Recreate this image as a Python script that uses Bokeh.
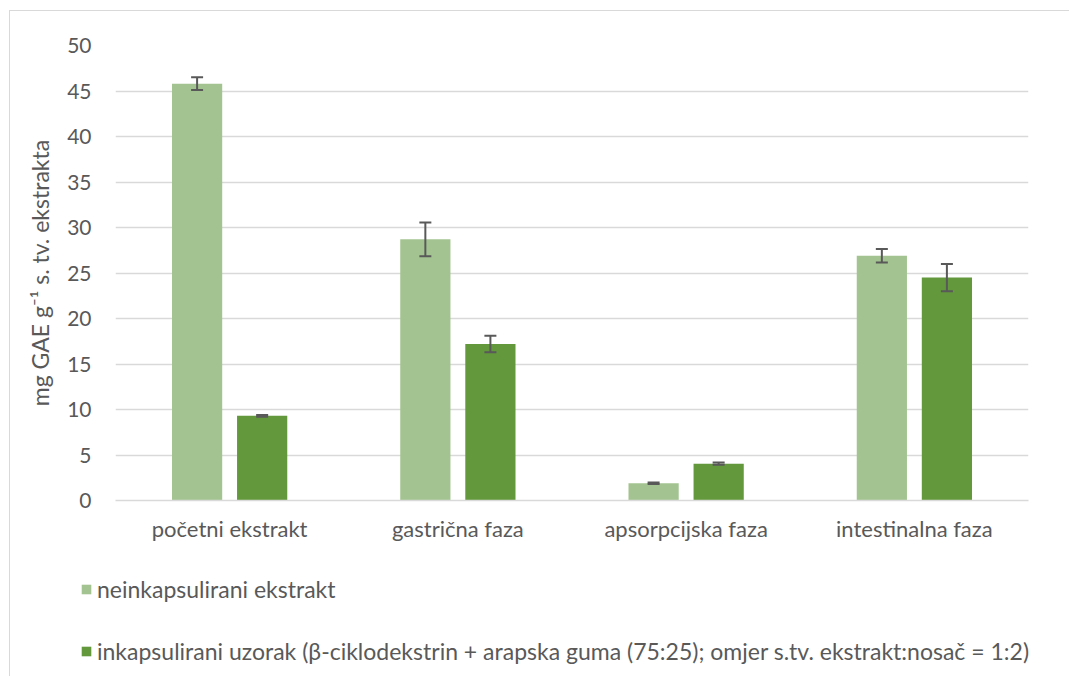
from bokeh.plotting import figure
from bokeh.models import (ColumnDataSource, Whisker, TeeHead, Legend, LegendItem,
                          FactorRange, Range1d, FixedTicker)
from bokeh.layouts import column
from bokeh.transform import dodge
from bokeh.embed import file_html
from bokeh.resources import INLINE

categories = ["početni ekstrakt", "gastrična faza", "apsorpcijska faza", "intestinalna faza"]
neinkapsulirani = [45.8, 28.7, 1.9, 26.9]
neinkapsulirani_err = [0.7, 1.85, 0.08, 0.75]
inkapsulirani = [9.3, 17.2, 4.05, 24.5]
inkapsulirani_err = [0.1, 0.9, 0.12, 1.5]
series_names = ["neinkapsulirani ekstrakt",
                "inkapsulirani uzorak (β-ciklodekstrin + arapska guma (75:25); omjer s.tv. ekstrakt:nosač = 1:2)"]
y_ticks = [0, 5, 10, 15, 20, 25, 30, 35, 40, 45, 50]
y_label = "mg GAE g⁻¹ s. tv. ekstrakta"

LIGHT = "#A3C490"
DARK = "#63983D"
TEXT = "#595959"
GRID = "#D9D9D9"
FONT = "Lato"
W_TOTAL = 1069

src = ColumnDataSource(dict(
    cat=categories,
    v1=neinkapsulirani,
    u1=[v + e for v, e in zip(neinkapsulirani, neinkapsulirani_err)],
    l1=[v - e for v, e in zip(neinkapsulirani, neinkapsulirani_err)],
    v2=inkapsulirani,
    u2=[v + e for v, e in zip(inkapsulirani, inkapsulirani_err)],
    l2=[v - e for v, e in zip(inkapsulirani, inkapsulirani_err)],
))

OFF = 0.1425
W = 0.22

# ---------------- main chart ----------------
p = figure(x_range=FactorRange(*categories), y_range=Range1d(0, 50),
           width=W_TOTAL, height=560, output_backend="svg", toolbar_location=None,
           min_border_left=115, min_border_right=41, min_border_top=45, min_border_bottom=60)
p.frame_align = False
p.outline_line_color = None
p.border_fill_color = None
p.background_fill_color = "white"
p.styles = {
    "background-color": "white",
    "background-image": "linear-gradient(#D9D9D9,#D9D9D9), linear-gradient(#D9D9D9,#D9D9D9)",
    "background-position": "9px 10px, 9px 10px",
    "background-size": "1px 100%, 100% 1px",
    "background-repeat": "no-repeat",
}

r1 = p.vbar(x=dodge("cat", -OFF, range=p.x_range), top="v1", width=W, source=src,
            fill_color=LIGHT, line_color=None)
r2 = p.vbar(x=dodge("cat", OFF, range=p.x_range), top="v2", width=W, source=src,
            fill_color=DARK, line_color=None)

for off, u, l in [(-OFF, "u1", "l1"), (OFF, "u2", "l2")]:
    w = Whisker(base=dodge("cat", off, range=p.x_range), upper=u, lower=l, source=src,
                line_color=TEXT, line_width=2, level="overlay",
                upper_head=TeeHead(size=12, line_color=TEXT, line_width=2),
                lower_head=TeeHead(size=12, line_color=TEXT, line_width=2))
    p.add_layout(w)

p.xgrid.grid_line_color = None
p.ygrid.grid_line_color = GRID
p.ygrid.grid_line_width = 1.3

p.yaxis.ticker = FixedTicker(ticks=y_ticks)
p.yaxis.axis_line_color = None
p.yaxis.major_tick_line_color = None
p.yaxis.minor_tick_line_color = None
p.yaxis.major_label_standoff = 18
p.yaxis.major_label_text_font = FONT
p.yaxis.major_label_text_font_size = "21px"
p.yaxis.major_label_text_color = TEXT
p.yaxis.axis_label = y_label
p.yaxis.axis_label_text_font = FONT
p.yaxis.axis_label_text_font_size = "23px"
p.yaxis.axis_label_text_font_style = "normal"
p.yaxis.axis_label_text_color = TEXT
p.yaxis.axis_label_standoff = 10

p.xaxis.axis_line_color = GRID
p.xaxis.axis_line_width = 1.3
p.xaxis.major_tick_line_color = None
p.xaxis.minor_tick_line_color = None
p.xaxis.major_label_standoff = 8
p.xaxis.major_label_text_font = FONT
p.xaxis.major_label_text_font_size = "22px"
p.xaxis.major_label_text_color = TEXT

# ---------------- legend strip ----------------
lg = figure(x_range=FactorRange(*categories), y_range=Range1d(0, 1),
            width=W_TOTAL, height=116, output_backend="svg", toolbar_location=None,
            min_border_left=0, min_border_right=0, min_border_top=0, min_border_bottom=0)
lg.frame_align = False
lg.axis.visible = False
lg.grid.visible = False
lg.outline_line_color = None
lg.border_fill_color = None
lg.background_fill_color = None
lg.styles = {
    "background-color": "white",
    "background-image": "linear-gradient(#D9D9D9,#D9D9D9)",
    "background-position": "9px 0px",
    "background-size": "1px 100%",
    "background-repeat": "no-repeat",
}
k1 = lg.vbar(x="cat", top="v1", width=W, source=src, fill_color=LIGHT, line_color=None,
             visible=False)
k2 = lg.vbar(x="cat", top="v2", width=W, source=src, fill_color=DARK, line_color=None,
             visible=False)

legend = Legend(items=[LegendItem(label=series_names[0], renderers=[k1]),
                       LegendItem(label=series_names[1], renderers=[k2])],
                location=(80, 11), orientation="vertical",
                glyph_width=12, glyph_height=12, label_standoff=5,
                label_text_font=FONT, label_text_font_size="23px", label_text_color=TEXT,
                label_height=26, spacing=34, padding=0, margin=0,
                border_line_color=None, background_fill_alpha=0)
lg.add_layout(legend)

layout = column(p, lg, spacing=0)
open("out.html", "w").write(file_html(layout, INLINE))
